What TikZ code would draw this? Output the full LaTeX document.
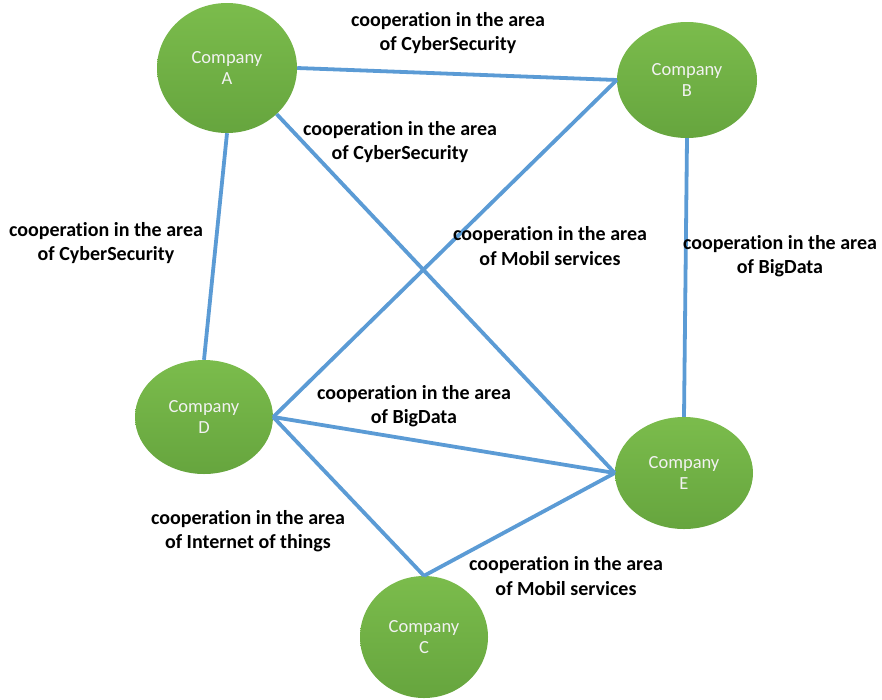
\documentclass[tikz,border=0pt]{standalone}
\usepackage{fontspec}
\setmainfont{Carlito}[Ligatures={NoCommon}]
\usepackage{tikz}
\usetikzlibrary{shapes.geometric}
\definecolor{coopgreen}{HTML}{70AD47}
\definecolor{coopgreentop}{HTML}{7BBC4C}
\definecolor{coopgreenbot}{HTML}{66A53E}
\definecolor{coopblue}{HTML}{5B9BD5}
\tikzset{
    company/.style={ellipse,shading=axis,top color=coopgreentop,bottom color=coopgreenbot,
        text=white!95!black,align=center,inner sep=0pt,
        font=\fontsize{18.5}{21}\selectfont},
    link/.style={draw=coopblue,line width=3.8pt},
    coop/.style={align=center,inner sep=0pt,font=\bfseries\fontsize{20}{24.5}\selectfont},
}

\begin{document}
\begin{tikzpicture}[x=1pt,y=-1pt]
    \useasboundingbox (0,0) rectangle (882,699);

    \node[company,minimum width=140pt,minimum height=130pt] (a) at (227,68) {Company\\A};
    \node[company,minimum width=140pt,minimum height=116pt] (b) at (687,80) {Company\\B};
    \node[company,minimum width=138pt,minimum height=114pt] (d) at (204,417) {Company\\D};
    \node[company,minimum width=138pt,minimum height=112pt] (e) at (684,473) {Company\\E};
    \node[company,minimum width=128pt,minimum height=122pt] (c) at (424,637) {Company\\C};

    \path[link]
    (a.east) edge (b.west)
    (a.south) edge (d.north)
    (a.south east) edge (e.west)
    (b.west) edge (d.east)
    (b.south) edge (e.north)
    (d.east) edge (e.west)
    (d.east) edge (c.north)
    (c.north) edge (e.west);

    \node[coop] (ab) at (448,33) {cooperation in the area\\of CyberSecurity};
    \node[coop] (ae) at (400,142) {cooperation in the area\\of CyberSecurity};
    \node[coop] (ad) at (106,243) {cooperation in the area\\of CyberSecurity};
    \node[coop] (bd) at (550,246) {cooperation in the area\\of Mobil services};
    \node[coop] (be) at (780,256) {cooperation in the area\\of BigData};
    \node[coop] (de) at (414,406) {cooperation in the area\\of BigData};
    \node[coop] (dc) at (248,531) {cooperation in the area\\of Internet of things};
    \node[coop] (ce) at (566,576) {cooperation in the area\\of Mobil services};
\end{tikzpicture}
\end{document}
